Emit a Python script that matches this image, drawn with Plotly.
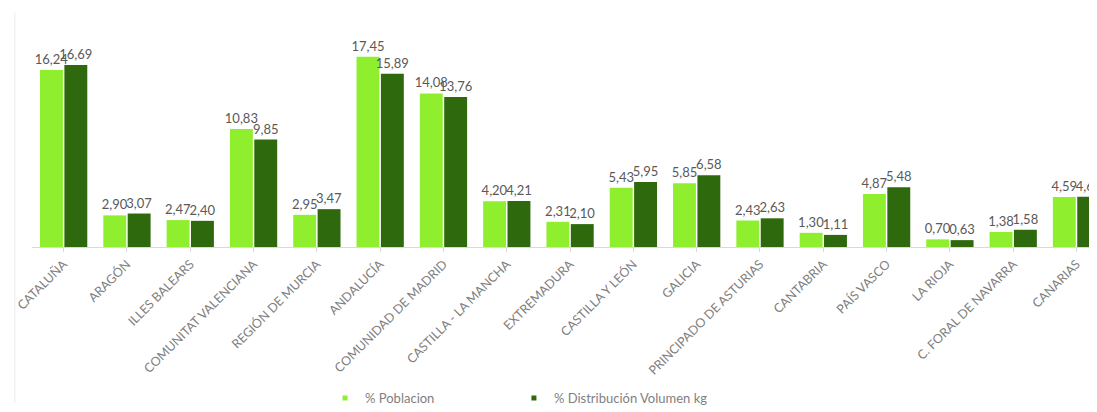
import plotly.graph_objects as go

categories = ["CATALUÑA", "ARAGÓN", "ILLES BALEARS", "COMUNITAT VALENCIANA", "REGIÓN DE MURCIA",
              "ANDALUCÍA", "COMUNIDAD DE MADRID", "CASTILLA - LA MANCHA", "EXTREMADURA",
              "CASTILLA Y LEÓN", "GALICIA", "PRINCIPADO DE ASTURIAS", "CANTABRIA", "PAÍS VASCO",
              "LA RIOJA", "C. FORAL DE NAVARRA", "CANARIAS"]
poblacion = [16.24, 2.90, 2.47, 10.83, 2.95, 17.45, 14.08, 4.20, 2.31, 5.43, 5.85, 2.43, 1.30, 4.87, 0.70, 1.38, 4.59]
distribucion = [16.69, 3.07, 2.40, 9.85, 3.47, 15.89, 13.76, 4.21, 2.10, 5.95, 6.58, 2.63, 1.11, 5.48, 0.63, 1.58, 4.60]
series_names = ["% Poblacion", "% Distribución Volumen kg"]

LIGHT = "#8FEF2F"
DARK = "#2E6A0D"

def fmt(v):
    return f"{v:.2f}".replace(".", ",")

x_idx = list(range(len(categories)))
fig = go.Figure()
for vals, col in [(poblacion, LIGHT), (distribucion, DARK)]:
    fig.add_trace(go.Bar(
        x=x_idx, y=vals, marker=dict(color=col, line=dict(width=0)),
        text=[fmt(v) for v in vals], textposition="outside",
        textfont=dict(family="Lato", size=13, color="#595959"),
        showlegend=False, cliponaxis=False,
    ))
for name, col, lg in zip(series_names, [LIGHT, DARK], ["legend", "legend2"]):
    fig.add_trace(go.Scatter(
        x=[None], y=[None], mode="markers", name=name, legend=lg,
        marker=dict(symbol="square", size=5, color=col),
    ))

legend_common = dict(
    orientation="h", xref="container", yref="container", y=0.053,
    xanchor="left", yanchor="middle",
    font=dict(size=13, color="#7f7f7f"), itemwidth=30, bgcolor="rgba(0,0,0,0)",
)

fig.update_layout(
    width=1097, height=412,
    margin=dict(l=24, r=0, t=22, b=173, autoexpand=False),
    paper_bgcolor="white", plot_bgcolor="white",
    barmode="group", bargap=0.23, bargroupgap=0.06,
    uniformtext=dict(minsize=13, mode="show"),
    font=dict(family="Lato", color="#7f7f7f"),
    xaxis=dict(
        tickmode="array", tickvals=x_idx, ticktext=categories,
        range=[-0.5, 16.45], tickangle=-45, automargin=False,
        tickfont=dict(size=12.5, color="#7f7f7f"),
        showline=True, linecolor="#d9d9d9", linewidth=1,
        ticks="outside", tickson="boundaries", ticklen=4, tickcolor="#d9d9d9",
        showgrid=False, zeroline=False,
    ),
    yaxis=dict(range=[0, 19.9], visible=False, showgrid=False, zeroline=False),
    legend=dict(x=0.2890, **legend_common),
    legend2=dict(x=0.4612, **legend_common),
    shapes=[dict(type="line", xref="paper", yref="paper", x0=-0.016, x1=-0.016, y0=1.08, y1=-0.72,
                 line=dict(color="#ececec", width=1))],
)

fig.write_html("out.html")
